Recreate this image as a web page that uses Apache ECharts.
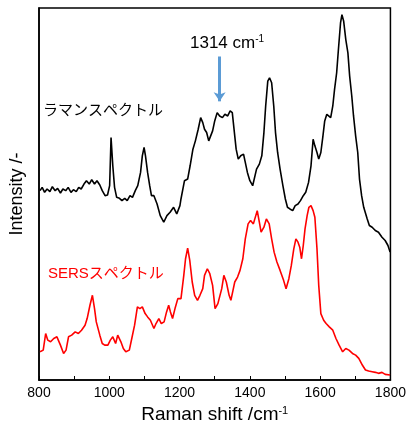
<!DOCTYPE html>
<html lang="ja">
<head>
    <meta charset="utf-8">
    <title>Raman / SERS spectrum</title>
    <script src="https://cdn.jsdelivr.net/npm/echarts@6/dist/echarts.min.js"></script>
    <style>
        html, body { margin: 0; padding: 0; background: #fff; }
        #chart { width: 409px; height: 429px; }
    </style>
</head>
<body>
<div id="chart"></div>
<script>
    // ラマンスペクトル (wavenumber cm-1, intensity a.u.)
    var ramanShift = [803, 809, 816, 823, 831, 838, 846, 853, 861, 868, 876, 883, 891, 898, 906, 913, 920, 928, 935, 943,
        950, 958, 965, 973, 980, 988, 995, 1001, 1005, 1010, 1015, 1021, 1029, 1036, 1044, 1051, 1059, 1066, 1074, 1081,
        1089, 1094, 1099, 1103, 1109, 1115, 1120, 1127, 1136, 1145, 1155, 1164, 1173, 1183, 1192, 1201, 1204, 1214, 1223,
        1230, 1238, 1245, 1253, 1260, 1266, 1271, 1277, 1283, 1288, 1294, 1300, 1307, 1314, 1322, 1329, 1337, 1344, 1350,
        1356, 1361, 1367, 1374, 1382, 1387, 1393, 1400, 1408, 1413, 1419, 1427, 1434, 1440, 1445, 1451, 1456, 1462, 1468,
        1473, 1479, 1486, 1494, 1501, 1507, 1514, 1522, 1529, 1537, 1544, 1552, 1559, 1567, 1574, 1580, 1585, 1591, 1596,
        1602, 1608, 1613, 1619, 1624, 1630, 1636, 1641, 1647, 1652, 1658, 1662, 1667, 1673, 1679, 1684, 1690, 1695, 1701,
        1707, 1712, 1718, 1724, 1734, 1740, 1748, 1757, 1766, 1776, 1785, 1793, 1799];
    var ramanIntensity = [570, 580, 565, 575, 567, 582, 570, 577, 563, 575, 570, 580, 565, 573, 567, 580, 575, 590, 600, 590,
        603, 590, 600, 587, 570, 555, 557, 585, 730, 645, 580, 550, 547, 540, 547, 540, 555, 550, 570, 585,
        625, 675, 700, 675, 625, 585, 555, 555, 530, 495, 475, 495, 505, 520, 500, 525, 545, 600, 605,
        645, 695, 720, 755, 790, 775, 755, 745, 720, 725, 750, 780, 805, 795, 790, 800, 795, 810, 805,
        745, 695, 665, 675, 680, 655, 625, 600, 585, 590, 635, 650, 675, 745, 825, 900, 910, 895, 825,
        745, 685, 635, 585, 545, 520, 515, 510, 525, 530, 540, 555, 565, 595, 645, 725, 705, 685, 665,
        685, 735, 780, 800, 805, 790, 825, 875, 925, 995, 1075, 1100, 1080, 1025, 985, 915, 855, 795, 735,
        685, 605, 555, 520, 485, 465, 460, 450, 445, 430, 420, 405, 385];

    // SERSスペクトル
    var sersShift = [803, 812, 819, 825, 833, 842, 851, 861, 870, 877, 884, 893, 903, 912, 921, 931, 937, 945, 952, 958,
        963, 973, 980, 987, 996, 1003, 1010, 1018, 1024, 1033, 1040, 1047, 1057, 1064, 1072, 1080, 1087, 1094, 1102, 1109,
        1117, 1127, 1133, 1141, 1148, 1156, 1163, 1169, 1174, 1180, 1187, 1195, 1204, 1212, 1217, 1223, 1229, 1236, 1243,
        1251, 1258, 1266, 1271, 1279, 1286, 1294, 1301, 1309, 1314, 1320, 1326, 1333, 1341, 1346, 1352, 1357, 1365, 1372,
        1380, 1387, 1395, 1402, 1410, 1415, 1421, 1427, 1432, 1440, 1447, 1455, 1462, 1469, 1477, 1486, 1496, 1503, 1511,
        1518, 1525, 1531, 1537, 1542, 1547, 1552, 1557, 1563, 1568, 1574, 1580, 1585, 1591, 1596, 1602, 1610, 1617, 1626,
        1636, 1645, 1654, 1664, 1673, 1682, 1692, 1701, 1710, 1720, 1729, 1738, 1748, 1757, 1766, 1776, 1785, 1799];
    var sersIntensity = [85, 90, 140, 120, 115, 125, 130, 105, 80, 90, 130, 135, 145, 140, 150, 165, 185, 225, 255, 215,
        175, 135, 110, 105, 105, 120, 130, 110, 135, 115, 95, 85, 90, 125, 165, 220, 215, 220, 200, 190,
        180, 155, 170, 185, 170, 175, 205, 225, 205, 185, 215, 245, 245, 315, 365, 397, 360, 295, 255,
        240, 255, 275, 315, 335, 320, 285, 215, 230, 225, 275, 315, 295, 255, 240, 270, 295, 310, 330,
        365, 425, 470, 480, 470, 475, 510, 475, 445, 460, 485, 470, 425, 385, 355, 330, 300, 275, 305,
        345, 395, 425, 415, 400, 365, 405, 455, 495, 520, 525, 510, 490, 395, 285, 200, 180, 170, 160,
        150, 125, 105, 85, 95, 90, 80, 75, 65, 45, 30, 27, 25, 23, 20, 23, 17, 15];

    var xTicks = [800, 1000, 1200, 1400, 1600, 1800];
    var peakLabel = 1314;
    var arrowRange = [974, 839];

    function zip(xs, ys) {
        var out = [];
        for (var i = 0; i < xs.length; i++) out.push([xs[i], ys[i]]);
        return out;
    }

    var chart = echarts.init(document.getElementById('chart'), null, {renderer: 'canvas'});
    var latin = '"Liberation Sans", Arial, sans-serif';
    var cjk = '"Liberation Sans", "Noto Sans CJK JP", sans-serif';

    var option = {
        animation: false,
        backgroundColor: '#ffffff',
        grid: {
            left: 35, right: 17, top: 8, bottom: 47,
            show: true,
            borderColor: '#000',
            borderWidth: 1.5
        },
        xAxis: {
            type: 'value',
            min: xTicks[0],
            max: xTicks[xTicks.length - 1],
            interval: 200,
            name: 'Raman shift /cm{sup|-1}',
            nameLocation: 'middle',
            nameGap: 25,
            nameTextStyle: {
                fontFamily: latin, fontSize: 19, color: '#000',
                rich: {sup: {fontFamily: latin, fontSize: 11, color: '#000', verticalAlign: 'top', padding: [0, 0, 8, 0]}}
            },
            axisLine: {show: true, lineStyle: {color: '#000', width: 1.5}},
            axisTick: {show: true, inside: true, length: 4, lineStyle: {color: '#000', width: 1}},
            minorTick: {show: true, splitNumber: 2, length: 4, lineStyle: {color: '#000', width: 1}},
            axisLabel: {
                fontFamily: latin, fontSize: 14, color: '#000', margin: 6,
                formatter: function (v) { return String(v); }
            },
            splitLine: {show: false}
        },
        yAxis: {
            type: 'value',
            min: 0,
            max: 1120,
            name: 'Intensity /-',
            nameLocation: 'middle',
            nameGap: 13,
            nameTextStyle: {fontFamily: latin, fontSize: 18, color: '#000'},
            axisLine: {show: true, lineStyle: {color: '#000', width: 1.5}},
            axisTick: {show: false},
            axisLabel: {show: false},
            splitLine: {show: false}
        },
        series: [
            {
                name: 'ラマンスペクトル',
                type: 'line',
                data: zip(ramanShift, ramanIntensity),
                showSymbol: false,
                lineStyle: {color: '#000', width: 1.6},
                markLine: {
                    silent: true,
                    symbol: ['none', 'arrow'],
                    symbolSize: [9, 9],
                    lineStyle: {color: '#5b9bd5', width: 3, type: 'solid'},
                    label: {show: false},
                    data: [[{coord: [peakLabel, arrowRange[0]]}, {coord: [peakLabel, arrowRange[1]]}]]
                }
            },
            {
                name: 'SERSスペクトル',
                type: 'line',
                data: zip(sersShift, sersIntensity),
                showSymbol: false,
                lineStyle: {color: '#ff0000', width: 1.6}
            }
        ],
        graphic: [
            {
                type: 'text', left: 190, top: 34,
                style: {
                    text: '1314 cm{sup|-1}',
                    font: '17px ' + latin,
                    fill: '#000',
                    rich: {sup: {font: '10px ' + latin, fill: '#000', verticalAlign: 'top', padding: [0, 0, 8, 0]}}
                }
            },
            {
                type: 'text', left: 43, top: 103,
                style: {text: 'ラマンスペクトル', font: '15px ' + cjk, fill: '#000'}
            },
            {
                type: 'text', left: 48, top: 266,
                style: {text: 'SERSスペクトル', font: '15px ' + cjk, fill: '#ff0000'}
            }
        ]
    };
    chart.setOption(option);
</script>
</body>
</html>
